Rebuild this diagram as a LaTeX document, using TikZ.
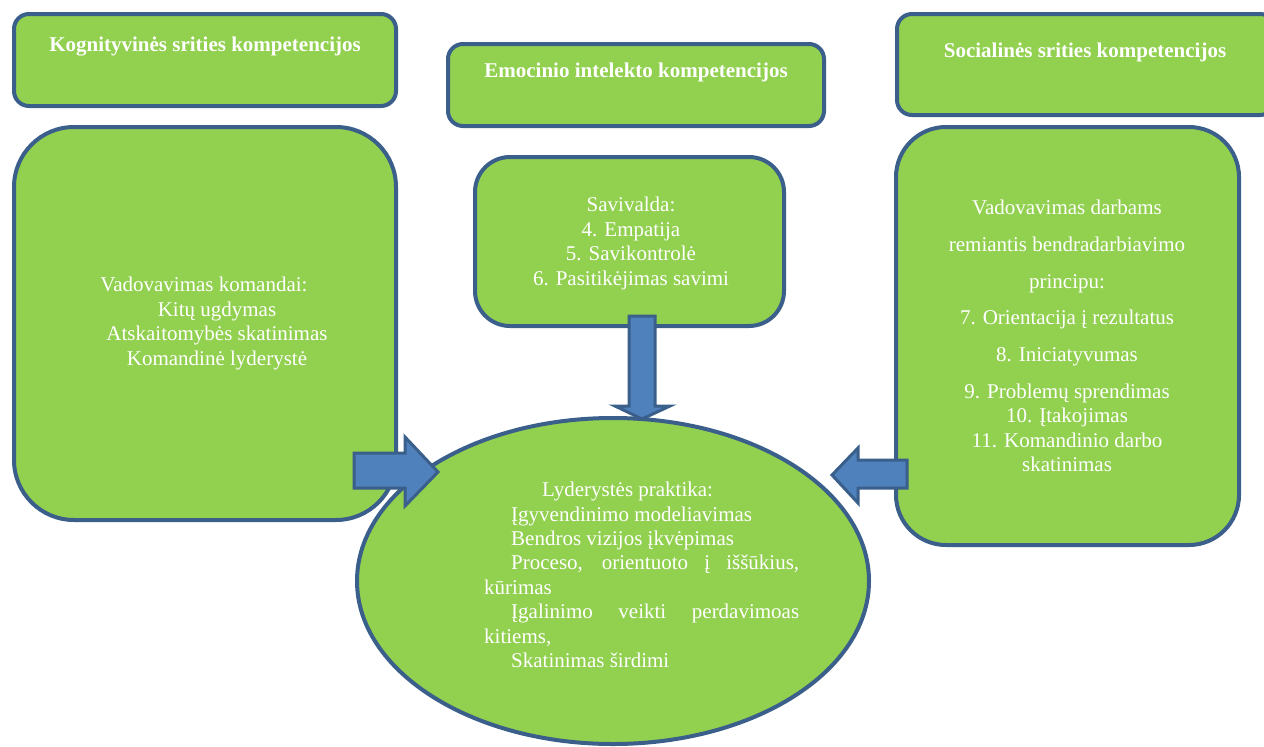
\documentclass[tikz,border=0pt]{standalone}
\usepackage{fontspec}
\setmainfont{Liberation Serif}
\usetikzlibrary{shapes.geometric}
\definecolor{leaf}{HTML}{92D050}
\definecolor{rim}{HTML}{3A5F8B}
\definecolor{arrowfill}{HTML}{4F81BD}
\begin{document}
\begin{tikzpicture}[x=1pt,y=-1pt,
  panel/.style={rectangle,draw=rim,line width=4pt,fill=leaf,inner sep=0pt},
  oval/.style={ellipse,draw=rim,line width=4pt,fill=leaf,inner sep=0pt},
  txt/.style={text=white,inner sep=0pt,font=\fontsize{21pt}{24.4pt}\selectfont},
  head/.style={txt,font=\fontsize{21pt}{24.4pt}\selectfont\bfseries},
  blockarrow/.style={draw=rim,line width=3pt,fill=arrowfill,line join=miter}]
\clip (0,0) rectangle (1264,747);
\useasboundingbox (0,0) rectangle (1264,747);

% header panels
\node[panel,rounded corners=15pt,minimum width=382pt,minimum height=92pt] (hK) at (205,60) {};
\node[panel,rounded corners=15pt,minimum width=376pt,minimum height=82pt] (hE) at (636,85) {};
\node[panel,rounded corners=15pt,minimum width=378pt,minimum height=101pt] (hS) at (1086,64.5) {};
\node[head] (tK) at (205,47) {Kognityvinės srities kompetencijos};
\node[head] (tE) at (636,72) {Emocinio intelekto kompetencijos};
\node[head] (tS) at (1085,52) {Socialinės srities kompetencijos};

% content panels
\node[panel,rounded corners=60pt,minimum width=382pt,minimum height=393pt] (bK) at (205,323.5) {};
\node[panel,rounded corners=35pt,minimum width=309pt,minimum height=169pt] (bE) at (629.5,241.5) {};
\node[panel,rounded corners=50pt,minimum width=343pt,minimum height=418pt] (bS) at (1067.5,336) {};

\node[txt,align=center] (xK) at (217,323.5) {Vadovavimas komandai:\hspace*{26pt}\\Kitų ugdymas\\Atskaitomybės skatinimas\\Komandinė lyderystė};
\node[txt,align=center] (xE) at (631,243.5) {Savivalda:\\4. Empatija\\5. Savikontrolė\\6. Pasitikėjimas savimi};
\node[txt,align=center] (xS) at (1067,336) {Vadovavimas darbams\\[12.3pt]remiantis bendradarbiavimo\\[12.3pt]principu:\\[12.3pt]7. Orientacija į rezultatus\\[12.3pt]8. Iniciatyvumas\\[12.3pt]9. Problemų sprendimas\\10. Įtakojimas\\11. Komandinio darbo\\skatinimas};

% central ellipse
\node[oval,minimum width=512pt,minimum height=326pt] (core) at (613,581) {};
\node[txt,anchor=north west,text width=315pt,align=justify] (xC) at (484,482)
  {\hyphenpenalty=10000\hspace*{58pt}Lyderystės praktika:\par
   \hspace*{27pt}Įgyvendinimo modeliavimas\par
   \hspace*{27pt}Bendros vizijos įkvėpimas\par
   \hspace*{27pt}Proceso, orientuoto į iššūkius,\linebreak kūrimas\par
   \hspace*{27pt}Įgalinimo veikti perdavimoas\linebreak kitiems,\par
   \hspace*{27pt}Skatinimas širdimi\par};

% block arrows into the ellipse
\draw[blockarrow] (354,453) -- (405,453) -- (405,437) -- (438,472) -- (405,506) -- (405,488) -- (354,488) -- cycle;
\draw[blockarrow] (907,460) -- (858,460) -- (858,448) -- (832,475) -- (858,503) -- (858,488) -- (907,488) -- cycle;
\draw[blockarrow] (629,316) -- (655,316) -- (655,406) -- (670,406) -- (642,419) -- (615,406) -- (629,406) -- cycle;
\end{tikzpicture}
\end{document}
